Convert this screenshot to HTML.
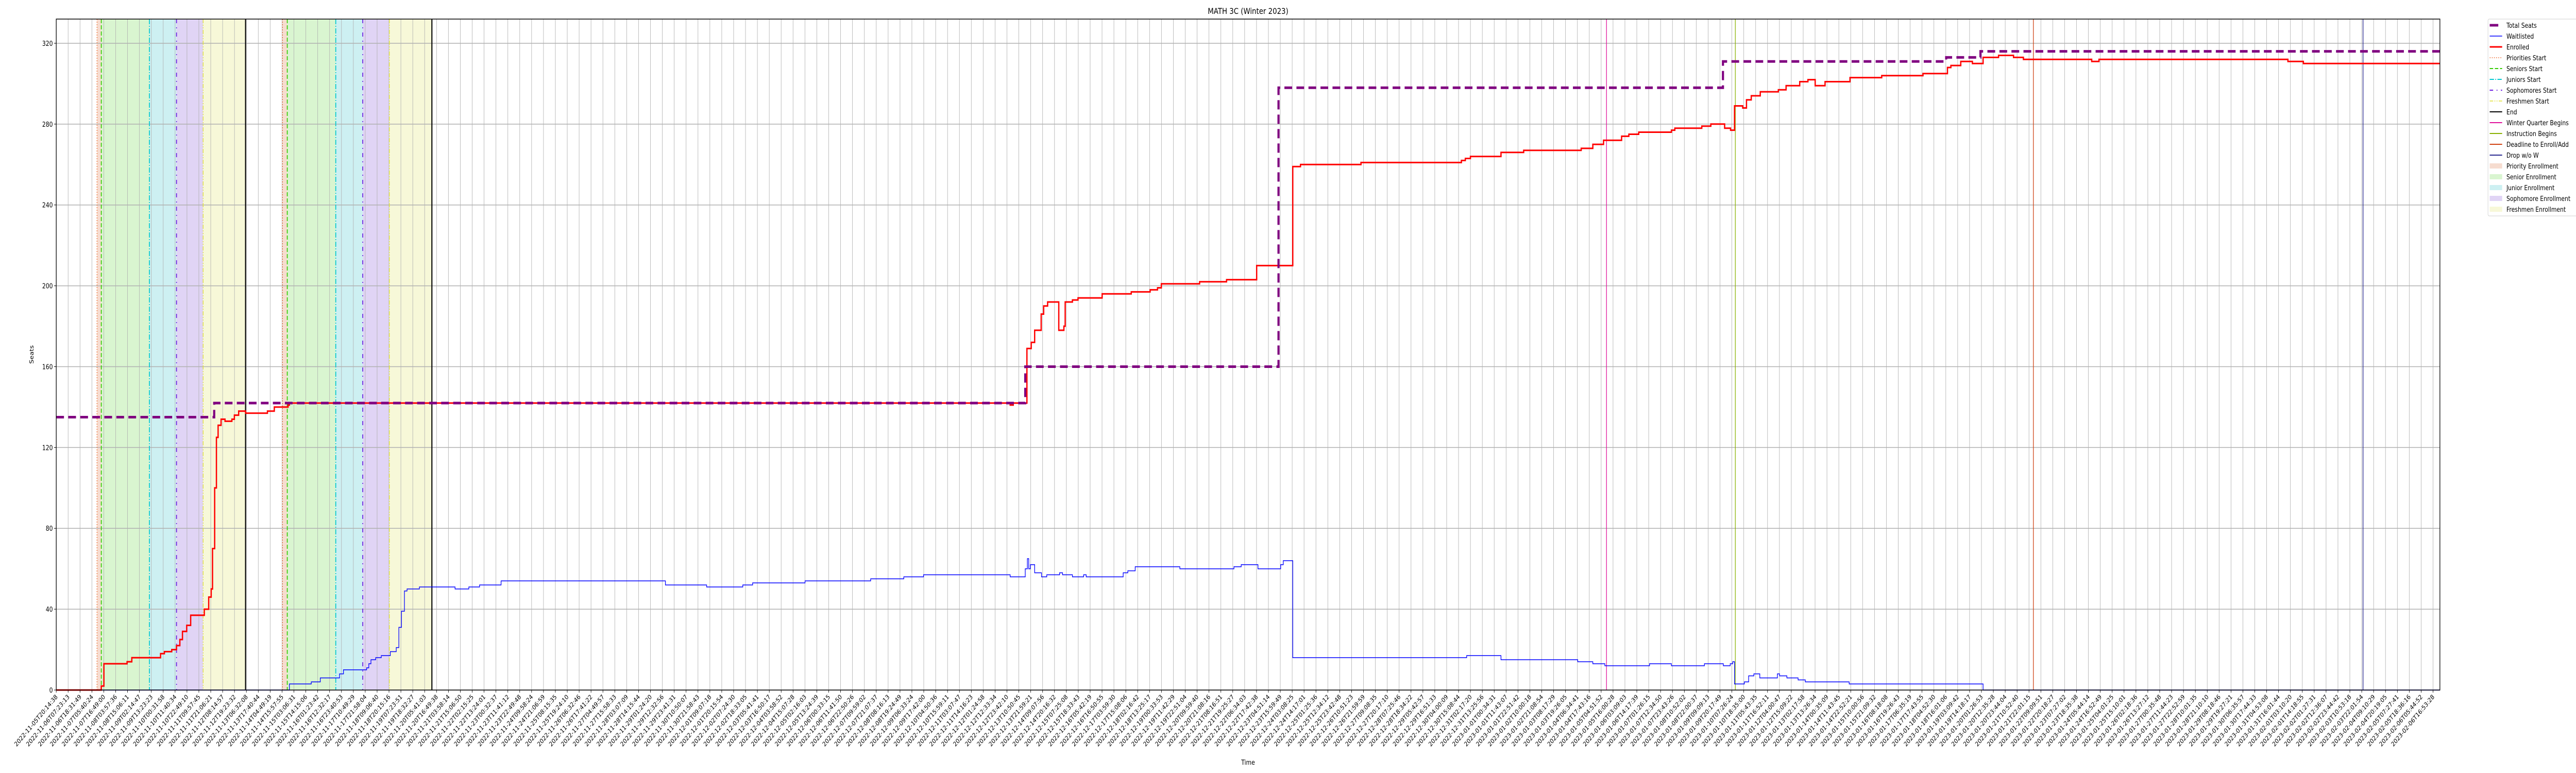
<!DOCTYPE html>
<html><head><meta charset="utf-8"><title>MATH 3C (Winter 2023)</title>
<style>
html,body{margin:0;padding:0;background:#fff;width:100%;height:100%;overflow:hidden;}
svg{display:block;width:100vw;height:100vh;font-family:"DejaVu Sans","Liberation Sans",sans-serif;}
</style></head>
<body>
<svg id="chart" viewBox="0 0 6000 1500" preserveAspectRatio="none" xmlns="http://www.w3.org/2000/svg">
<rect x="0" y="0" width="6000" height="1500" fill="#fff"/>
<g id="shades"></g>
<g id="grid"></g>
<g id="events"></g>
<g id="series"></g>
<rect x="131" y="37" width="5552" height="1302" fill="none" stroke="#000" stroke-width="1.5"/>
<g id="yaxis"></g>
<g id="xaxis"></g>
<text x="2907" y="27" text-anchor="middle" font-size="16">MATH 3C (Winter 2023)</text>
<text x="0" y="0" transform="translate(78,688) rotate(-90)" text-anchor="middle" font-size="13">Seats</text>
<text x="2907" y="1484" text-anchor="middle" font-size="13">Time</text>
<g id="legend"></g>
</svg>
<script>
// ---- data (x in sample-axis units: tick index positions) ----
const totalX = [0, 13.29, 81.54, 102.85, 140.25, 159.03, 161.92];
const totalV = [135, 142, 160, 298, 311, 313, 316];

const enrolledX = [0,3.43,3.79,4.01,5.96,6.36,8.78,9.10,9.72,10.12,10.40,10.62,10.98,11.31,12.46,12.83,13.04,13.15,13.33,13.48,13.62,13.87,14.20,14.78,14.99,15.35,15.93,17.77,18.35,19.51,19.62,80.27,80.53,81.68,82.04,82.33,82.88,83.09,83.42,84.36,84.79,84.90,85.51,85.98,88.01,90.46,92.05,92.67,92.99,96.21,98.48,101.01,104.05,104.70,109.79,118.24,118.57,119.00,121.57,123.48,128.32,129.30,130.20,131.72,132.33,133.16,135.91,136.20,138.47,139.23,140.39,140.89,141.22,141.91,142.23,142.63,143.39,144.91,145.56,146.71,147.40,148.01,148.84,150.94,153.61,157.08,159.14,159.43,160.26,161.24,162.14,163.44,164.70,165.53,171.28,171.89,187.79,189.09];
const enrolledV = [0,0,2,13,14,16,18,19,20,22,25,29,32,37,40,46,50,70,100,125,131,134,133,134,136,138,137,138,140,141,142,141,142,169,172,178,186,190,192,178,180,192,193,194,196,197,198,199,201,202,203,210,259,260,261,262,263,264,266,267,268,270,272,274,275,276,277,278,279,280,278,277,289,288,292,294,296,297,299,301,302,299,301,303,304,305,308,309,311,310,313,314,313,312,311,312,311,310];

const waitX = [0,19.62,21.46,22.22,23.84,24.17,26.12,26.30,26.48,26.88,27.35,28.11,28.61,28.83,29.05,29.30,29.52,30.56,33.56,34.72,35.62,37.43,51.26,54.73,57.77,58.60,63.01,68.53,71.32,72.98,80.27,81.54,81.72,81.83,81.97,82.33,82.91,83.35,84.43,84.68,85.51,86.45,86.67,89.78,90.17,90.79,94.55,99.10,99.71,101.12,103.03,103.25,104.05,118.68,121.57,128.03,129.30,130.31,134.07,135.91,138.69,140.28,140.86,141.07,141.22,142.05,142.41,142.85,143.35,144.83,145.01,145.63,146.57,147.18,150.87,162.14];
const waitV = [0,3,4,6,8,10,11,13,15,16,17,19,21,31,39,49,50,51,50,51,52,54,52,51,52,53,54,55,56,57,56,60,65,60,62,58,56,57,58,57,56,57,56,58,59,61,60,61,62,60,62,64,16,17,15,14,13,12,13,12,13,12,13,14,3,4,7,8,6,8,7,6,5,4,3,0];

// enrollment windows: [priorities, seniors, juniors, sophomores, freshmen, end]
const round1 = [3.43, 3.79, 7.84, 10.12, 12.36, 15.93];
const round2 = [19.04, 19.44, 23.52, 25.79, 28.03, 31.61];
const calendarNames = ["Winter Quarter Begins","Instruction Begins","Deadline to Enroll/Add","Drop w/o W"];
const calendarX = [130.45, 141.29, 166.37, 194.11];

const yTicks = [0,40,80,120,160,200,240,280,320];
const xStart = "2022-11-05T20:14:38";
const xEnd = "2023-02-06T16:53:28";
const tickCount = 201;

// ---- axes ----
const L=131, R=5683, T=37, B=1339, XSTEP=27.68, YUNIT=3.922, XMAX=200.58;
function xs(i){return L + i*XSTEP;}
function ys(v){return B - v*YUNIT;}
const NS="http://www.w3.org/2000/svg";
function mk(tag, attrs, parent){const e=document.createElementNS(NS,tag);for(const k in attrs)e.setAttribute(k,attrs[k]);parent.appendChild(e);return e;}

const t0=Date.parse(xStart+"Z"), t1=Date.parse(xEnd+"Z");
const xLabels=[];
for(let i=0;i<tickCount;i++){const t=new Date(t0+(t1-t0)*i/(tickCount-1));xLabels.push(t.toISOString().slice(0,19));}

// shading
const shadeG=document.getElementById('shades');
const shadeCols=["#f6dccf","#d9f5d0","#cdf0f2","#e0d4f5","#f7f8d8"];
const shadeNames=["priority-enrollment","senior-enrollment","junior-enrollment","sophomore-enrollment","freshmen-enrollment"];
[round1,round2].forEach((r,ri)=>{
  for(let k=0;k<5;k++){
    const e=mk('rect',{x:xs(r[k]),y:T,width:xs(r[k+1])-xs(r[k]),height:B-T,fill:shadeCols[k]},shadeG);
    
    
  }
});

// grid
const gridG=document.getElementById('grid');
for(let i=0;i<tickCount;i++){
  const e=mk('line',{x1:xs(i),x2:xs(i),y1:T,y2:B,stroke:"#b0b0b0","stroke-width":1},gridG);
  
  
}
yTicks.forEach(v=>{
  const e=mk('line',{x1:L,x2:R,y1:ys(v),y2:ys(v),stroke:"#b0b0b0","stroke-width":1.5},gridG);
  
  
});

// event lines
const evG=document.getElementById('events');
const evStyles=[
 {c:"#ee6a30",d:"2,3",w:1.5,n:"priorities-start"},
 {c:"#33cc00",d:"8,4",w:2,n:"seniors-start"},
 {c:"#00c8d0",d:"10,3,2,3",w:2,n:"juniors-start"},
 {c:"#6a1be0",d:"8,8,2,8",w:2,n:"sophomores-start"},
 {c:"#e0e030",d:"8,3,2,3,2,3",w:1.5,n:"freshmen-start"},
 {c:"#000000",d:"",w:2.5,n:"end"}];
[round1,round2].forEach((r,ri)=>{
  r.forEach((xv,k)=>{
    const s=evStyles[k];
    const a={x1:xs(xv),x2:xs(xv),y1:T,y2:B,stroke:s.c,"stroke-width":s.w};
    if(s.d)a["stroke-dasharray"]=s.d;
    const e=mk('line',a,evG);
    
    
  });
});
const calCols=["#e0109a","#88b000","#d04010","#2a2a90"];
calendarX.forEach((xv,k)=>{
  const e=mk('line',{x1:xs(xv),x2:xs(xv),y1:T,y2:B,stroke:calCols[k],"stroke-width":1.5},evG);
  
  
});

// series (step paths)
function stepPath(X,V){
  let d="M"+xs(X[0])+","+ys(V[0]);
  for(let i=1;i<X.length;i++){d+=" H"+xs(X[i]).toFixed(1)+" V"+ys(V[i]).toFixed(1);}
  d+=" H"+xs(XMAX);
  return d;
}
const serG=document.getElementById('series');
let e=mk('path',{d:stepPath(waitX,waitV),fill:"none",stroke:"#0000ff","stroke-width":1.5},serG);


e=mk('path',{d:stepPath(enrolledX,enrolledV),fill:"none",stroke:"#ff0000","stroke-width":3},serG);


e=mk('path',{d:stepPath(totalX,totalV),fill:"none",stroke:"#800080","stroke-width":5,"stroke-dasharray":"18,10"},serG);



// y axis
const yG=document.getElementById('yaxis');
yTicks.forEach(v=>{
  let t=mk('line',{x1:L-5,x2:L,y1:ys(v),y2:ys(v),stroke:"#000","stroke-width":1},yG);
  
  
  t=mk('text',{x:L-8,y:ys(v)+5,"text-anchor":"end","font-size":13},yG);
  t.textContent=v;
  
  
});

// x axis
const xG=document.getElementById('xaxis');
xLabels.forEach((lab,i)=>{
  let t=mk('line',{x1:xs(i),x2:xs(i),y1:B,y2:B+5,stroke:"#000","stroke-width":1},xG);
  
  
  t=mk('text',{x:0,y:0,transform:"translate("+(xs(i)+4)+","+(B+14)+") rotate(-45)","text-anchor":"end","font-size":12.5},xG);
  t.textContent=lab;
  
  
});

// legend
const lg=document.getElementById('legend');
let box=mk('rect',{x:5795,y:37,width:215,height:382,rx:3,fill:"#fff","fill-opacity":0.8,stroke:"#d0d0d0","stroke-width":1},lg);


const legendItems=[
 ["Total Seats","line","#800080",5,"18,10"],
 ["Waitlisted","line","#0000ff",1.5,""],
 ["Enrolled","line","#ff0000",3,""],
 ["Priorities Start","line","#ee6a30",1.5,"2,3"],
 ["Seniors Start","line","#33cc00",2,"8,4"],
 ["Juniors Start","line","#00c8d0",2,"10,3,2,3"],
 ["Sophomores Start","line","#6a1be0",2,"8,8,2,8"],
 ["Freshmen Start","line","#e0e030",1.5,"8,3,2,3,2,3"],
 ["End","line","#000000",2,""],
 ["Winter Quarter Begins","line","#e0109a",2,""],
 ["Instruction Begins","line","#88b000",2,""],
 ["Deadline to Enroll/Add","line","#d04010",2,""],
 ["Drop w/o W","line","#2a2a90",2,""],
 ["Priority Enrollment","patch","#f6dccf"],
 ["Senior Enrollment","patch","#d9f5d0"],
 ["Junior Enrollment","patch","#cdf0f2"],
 ["Sophomore Enrollment","patch","#e0d4f5"],
 ["Freshmen Enrollment","patch","#f7f8d8"]];
legendItems.forEach((it,k)=>{
  const cy=49+k*21;
  const g=mk('g',{},lg);
  
  
  if(it[1]==="line"){
    const a={x1:5799,x2:5828,y1:cy,y2:cy,stroke:it[2],"stroke-width":it[3]};
    if(it[4])a["stroke-dasharray"]=it[4];
    if(k===0){a.x2=5819;delete a["stroke-dasharray"];}
    mk('line',a,g);
  } else {
    mk('rect',{x:5799,y:cy-5,width:29,height:10,fill:it[2]},g);
  }
  const t=mk('text',{x:5838,y:cy+5,"font-size":13},g);
  t.textContent=it[0];
});
</script>
</body></html>
